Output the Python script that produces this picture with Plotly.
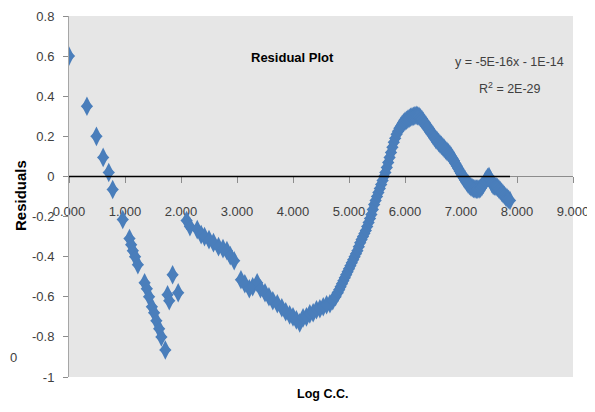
import plotly.graph_objects as go

# ---- data ----
log_cc = [0.00, 0.32, 0.49, 0.61, 0.71, 0.78, 0.96, 1.08, 1.11, 1.14, 1.18, 1.23,
          1.35, 1.39, 1.43, 1.48, 1.52, 1.56, 1.61, 1.65, 1.72, 1.76, 1.79, 1.85, 1.95,
          2.10, 2.16, 2.29, 2.36, 2.42, 2.50, 2.58, 2.67, 2.75, 2.82, 2.88, 2.95,
          3.07, 3.14, 3.22, 3.28, 3.36, 3.42, 3.50, 3.57, 3.64, 3.72, 3.80, 3.87,
          3.94, 4.00, 4.06, 4.12, 4.18, 4.24, 4.30, 4.36, 4.42, 4.48, 4.54, 4.60,
          4.66, 4.71, 4.76,
          4.800, 4.825, 4.850, 4.875, 4.900, 4.925, 4.950, 4.975, 5.000, 5.025,
          5.050, 5.075, 5.100, 5.125, 5.150, 5.175, 5.200, 5.225, 5.250, 5.275,
          5.300, 5.325, 5.350, 5.375, 5.400, 5.425, 5.450, 5.475, 5.500, 5.525,
          5.550, 5.575, 5.600, 5.625, 5.650, 5.675, 5.700, 5.725, 5.750, 5.775,
          5.800, 5.825, 5.850, 5.875, 5.900, 5.925, 5.950, 5.975, 6.000, 6.025,
          6.050, 6.075, 6.100, 6.125, 6.150, 6.175, 6.200, 6.225, 6.250, 6.275,
          6.300, 6.325, 6.350, 6.375, 6.400, 6.425, 6.450, 6.475, 6.500, 6.525,
          6.550, 6.575, 6.600, 6.625, 6.650, 6.675, 6.700, 6.725, 6.750, 6.775,
          6.800, 6.825, 6.850, 6.875, 6.900, 6.925, 6.950, 6.975, 7.000, 7.025,
          7.050, 7.075, 7.100, 7.125, 7.150, 7.175, 7.200, 7.225, 7.250, 7.275,
          7.300, 7.325, 7.350, 7.375, 7.400, 7.425, 7.450, 7.475, 7.500, 7.525,
          7.550, 7.575, 7.600, 7.625, 7.650, 7.675, 7.700, 7.725, 7.750, 7.775,
          7.800, 7.825, 7.850, 7.875]

residuals = [0.60, 0.35, 0.20, 0.095, 0.02, -0.065, -0.215, -0.31, -0.34, -0.37, -0.40, -0.44,
             -0.53, -0.56, -0.60, -0.65, -0.68, -0.72, -0.76, -0.80, -0.865, -0.59, -0.62, -0.49, -0.58,
             -0.22, -0.25, -0.265, -0.29, -0.30, -0.315, -0.33, -0.35, -0.36, -0.37, -0.395, -0.42,
             -0.515, -0.535, -0.56, -0.55, -0.53, -0.56, -0.58, -0.60, -0.62, -0.635, -0.655, -0.675,
             -0.69, -0.70, -0.715, -0.73, -0.705, -0.70, -0.685, -0.68, -0.665, -0.66, -0.65, -0.64,
             -0.635, -0.62, -0.60,
             -0.580, -0.565, -0.550, -0.535, -0.520, -0.505, -0.490, -0.475, -0.460, -0.445,
             -0.430, -0.415, -0.400, -0.385, -0.370, -0.350, -0.330, -0.315, -0.300, -0.285,
             -0.270, -0.250, -0.230, -0.210, -0.190, -0.165, -0.140, -0.120, -0.100, -0.080,
             -0.060, -0.040, -0.020, 0.000, 0.020, 0.045, 0.070, 0.095, 0.120, 0.145,
             0.170, 0.190, 0.210, 0.225, 0.240, 0.250, 0.260, 0.268, 0.275, 0.280,
             0.285, 0.290, 0.295, 0.298, 0.300, 0.303, 0.305, 0.303, 0.300, 0.293,
             0.285, 0.275, 0.265, 0.255, 0.245, 0.235, 0.225, 0.215, 0.205, 0.195,
             0.185, 0.178, 0.170, 0.162, 0.155, 0.148, 0.140, 0.132, 0.125, 0.118,
             0.110, 0.100, 0.090, 0.078, 0.065, 0.052, 0.040, 0.027, 0.015, 0.003,
             -0.008, -0.018, -0.028, -0.037, -0.045, -0.051, -0.056, -0.060, -0.062, -0.063,
             -0.063, -0.062, -0.058, -0.050, -0.040, -0.028, -0.015, -0.005, 0.000, -0.015,
             -0.035, -0.045, -0.048, -0.050, -0.055, -0.062, -0.070, -0.078, -0.086, -0.094,
             -0.102, -0.108, -0.114, -0.120]

trend_slope = -5e-16
trend_intercept = -1e-14

x_tick_vals = [0, 1, 2, 3, 4, 5, 6, 7, 8, 9]
x_tick_text = ["0.000", "1.000", "2.000", "3.000", "4.000", "5.000", "6.000", "7.000", "8.000", "9.000"]
y_tick_vals = [-1, -0.8, -0.6, -0.4, -0.2, 0, 0.2, 0.4, 0.6, 0.8]
y_tick_text = ["-1", "-0.8", "-0.6", "-0.4", "-0.2", "0", "0.2", "0.4", "0.6", "0.8"]

BLUE = "#4a7ebb"
FONT = "Liberation Sans, Arial, sans-serif"
TXT = "#404040"

# the page body has an 8px margin, so the figure starts at (8, 8) in the window
OFF = 8
FIG_W, FIG_H = 595 - OFF, 412 - OFF
PL, PR, PT, PB = 69, 573, 16, 377          # plot box in window pixels
ML, MT = PL - OFF, PT - OFF
MR, MB = FIG_W - (PR - OFF), FIG_H - (PB - OFF)

trend_x = [min(log_cc), max(log_cc)]
trend_y = [trend_slope * v + trend_intercept for v in trend_x]

fig = go.Figure()
# two overlapping symbols give a taller-than-wide diamond like the reference
fig.add_trace(go.Scatter(x=log_cc, y=residuals, mode="markers",
                         marker=dict(symbol="diamond-tall", size=14, color=BLUE, line=dict(width=0)),
                         showlegend=False, hoverinfo="skip"))
fig.add_trace(go.Scatter(x=log_cc, y=residuals, mode="markers",
                         marker=dict(symbol="diamond", size=9.5, color=BLUE, line=dict(width=0)),
                         showlegend=False))
fig.add_trace(go.Scatter(x=trend_x, y=trend_y, mode="lines",
                         line=dict(color="#000000", width=1.5), showlegend=False))

def ann(text, px, py, size, color=TXT, family=FONT, angle=0, xanchor="center"):
    return dict(text=text, x=(px - PL) / (PR - PL), y=(PB - py) / (PB - PT),
                xref="paper", yref="paper", xanchor=xanchor, yanchor="middle",
                showarrow=False, textangle=angle,
                font=dict(family=family, size=size, color=color))

fig.update_layout(
    width=FIG_W, height=FIG_H,
    margin=dict(l=ML, r=MR, t=MT, b=MB),
    paper_bgcolor="white",
    plot_bgcolor="#e6e6e6",
    font=dict(family=FONT, size=13, color=TXT),
    xaxis=dict(range=[0, 9], tickvals=x_tick_vals, ticktext=x_tick_text,
               anchor="free", position=1 / 1.8, automargin=False,
               showline=True, linecolor="#8c8c8c", linewidth=1,
               ticks="outside", ticklen=6, tickcolor="#8c8c8c",
               ticklabelstandoff=17, layer="below traces",
               showgrid=False, zeroline=False,
               tickfont=dict(family=FONT, size=13, color=TXT)),
    yaxis=dict(range=[-1, 0.8], tickvals=y_tick_vals, ticktext=y_tick_text,
               automargin=False,
               showline=True, linecolor="#a6a6a6", linewidth=1,
               ticks="outside", ticklen=5, tickcolor="#8c8c8c",
               ticklabelstandoff=6,
               showgrid=False, zeroline=False,
               tickfont=dict(family=FONT, size=13, color=TXT)),
    annotations=[
        ann("<b>Residual Plot</b>", 292, 57, 13, color="#000000"),
        ann("y = -5E-16x - 1E-14", 509, 62, 12.5),
        ann("R<sup>2</sup> = 2E-29", 510, 88, 12.5),
        ann("<b>Log C.C.</b>", 322, 394, 12.5, color="#000000"),
        ann("<b>Residuals</b>", 20, 196, 15, color="#000000", angle=-90),
        ann("0", 8, 357, 13, xanchor="left"),
    ],
)

fig.write_html("out.html")
